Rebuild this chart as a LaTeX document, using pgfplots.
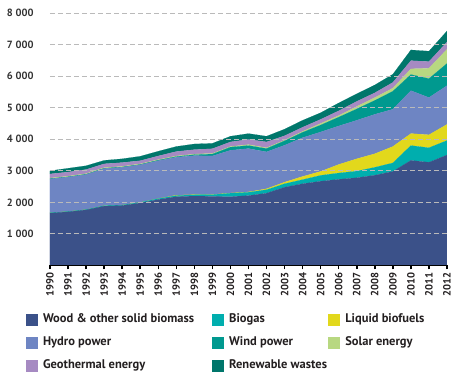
\documentclass[border=0pt]{standalone}
\usepackage{fontspec}
\setmainfont{PT Sans}
\usepackage{pgfplots}
\usepackage{pgfplotstable}
\pgfplotsset{compat=1.18}
\definecolor{cWood}{HTML}{3B5189}
\definecolor{cBio}{HTML}{00AEAE}
\definecolor{cLiq}{HTML}{E2D81C}
\definecolor{cHydro}{HTML}{6E85C3}
\definecolor{cWind}{HTML}{00998F}
\definecolor{cSolar}{HTML}{B8D881}
\definecolor{cGeo}{HTML}{A68AC2}
\definecolor{cWaste}{HTML}{00766B}
\definecolor{cText}{HTML}{231F20}
\pgfplotstableread{
year wood bio liq hydro wind solar geo waste
1990 1660 10 0 1070 10 20 130 100
1991 1700 10 0 1090 10 20 130 120
1992 1760 10 0 1110 10 20 130 120
1993 1880 15 0 1175 10 20 120 110
1994 1900 15 0 1195 10 20 120 120
1995 1980 20 0 1190 10 20 100 140
1996 2090 30 0 1200 15 20 115 150
1997 2180 35 10 1205 20 20 140 160
1998 2200 40 5 1235 30 20 140 180
1999 2190 55 5 1220 60 20 150 170
2000 2180 110 5 1355 100 20 145 180
2001 2215 105 10 1375 95 30 160 190
2002 2290 110 30 1170 105 25 185 180
2003 2480 110 50 1170 140 20 140 210
2004 2590 130 100 1230 170 30 130 220
2005 2670 185 125 1250 220 50 130 210
2006 2730 200 270 1220 280 50 150 250
2007 2780 210 390 1220 360 80 160 240
2008 2860 250 430 1250 440 90 150 250
2009 2980 270 520 1180 570 100 180 260
2010 3330 470 380 1360 510 180 260 340
2011 3270 460 410 1180 600 330 210 330
2012 3500 460 510 1230 700 450 230 350
}\data
\begin{document}
\begin{tikzpicture}
\useasboundingbox (-50pt,-114.5pt) rectangle (419pt,265.5pt);
\begin{axis}[
  at={(0pt,0pt)}, anchor=south west,
  scale only axis, width=397pt, height=252.5pt,
  xmin=1990, xmax=2012, ymin=0, ymax=8000,
  stack plots=y, axis on top,
  axis x line*=bottom, axis y line*=left,
  y axis line style={draw=none},
  x axis line style={black, line width=1.3pt, -},
  xtick={1990,1991,...,2012},
  xticklabels={1990,1991,1992,1993,1994,1995,1996,1997,1998,1999,2000,2001,2002,2003,2004,2005,2006,2007,2008,2009,2010,2011,2012},
  ytick={1000,2000,...,8000},
  yticklabels={1 000,2 000,3 000,4 000,5 000,6 000,7 000,8 000},
  tick align=outside,
  xtick style={black, line width=1.5pt},
  major tick length=4pt,
  ytick style={draw=none},
  ymajorgrids,
  grid style={dash pattern=on 5pt off 3pt, color=black!27, line width=0.9pt},
  xticklabel style={font=\bfseries\fontsize{10.5}{11}\selectfont, text=cText, rotate=90, anchor=east},
  yticklabel style={font=\bfseries\fontsize{10.5}{11}\selectfont, text=black!80, xshift=-9pt},
  legend columns=3,
  legend image code/.code={\fill[#1] (0pt,-5.5pt) rectangle (11pt,5.5pt);},
  legend style={draw=none, fill=none, inner sep=0pt, outer sep=0pt,
    column sep=0pt, row sep=12pt,
    nodes={inner sep=0pt, font=\bfseries\fontsize{12.5}{13}\selectfont, text=cText, anchor=west},
    at={([xshift=-24pt,yshift=-48pt]axis description cs:0,0)}, anchor=north west},
  legend cell align=left,
]
\addplot[fill=cWood, draw=cWood, line width=0.1pt] table[x=year,y=wood]{\data} \closedcycle;
\addlegendentry{\hspace*{6pt}\makebox[169pt][l]{Wood \& other solid biomass}}
\addplot[fill=cBio, draw=cBio, line width=0.1pt] table[x=year,y=bio]{\data} \closedcycle;
\addlegendentry{\hspace*{6pt}\makebox[99pt][l]{Biogas}}
\addplot[fill=cLiq, draw=cLiq, line width=0.1pt] table[x=year,y=liq]{\data} \closedcycle;
\addlegendentry{\hspace*{6pt}Liquid biofuels}
\addplot[fill=cHydro, draw=cHydro, line width=0.1pt] table[x=year,y=hydro]{\data} \closedcycle;
\addlegendentry{\hspace*{6pt}\makebox[169pt][l]{Hydro power}}
\addplot[fill=cWind, draw=cWind, line width=0.1pt] table[x=year,y=wind]{\data} \closedcycle;
\addlegendentry{\hspace*{6pt}\makebox[99pt][l]{Wind power}}
\addplot[fill=cSolar, draw=cSolar, line width=0.1pt] table[x=year,y=solar]{\data} \closedcycle;
\addlegendentry{\hspace*{6pt}Solar energy}
\addplot[fill=cGeo, draw=cGeo, line width=0.1pt] table[x=year,y=geo]{\data} \closedcycle;
\addlegendentry{\hspace*{6pt}\makebox[169pt][l]{Geothermal energy}}
\addplot[fill=cWaste, draw=cWaste, line width=0.1pt] table[x=year,y=waste]{\data} \closedcycle;
\addlegendentry{\hspace*{6pt}\makebox[99pt][l]{Renewable wastes}}
\end{axis}
\end{tikzpicture}
\end{document}
